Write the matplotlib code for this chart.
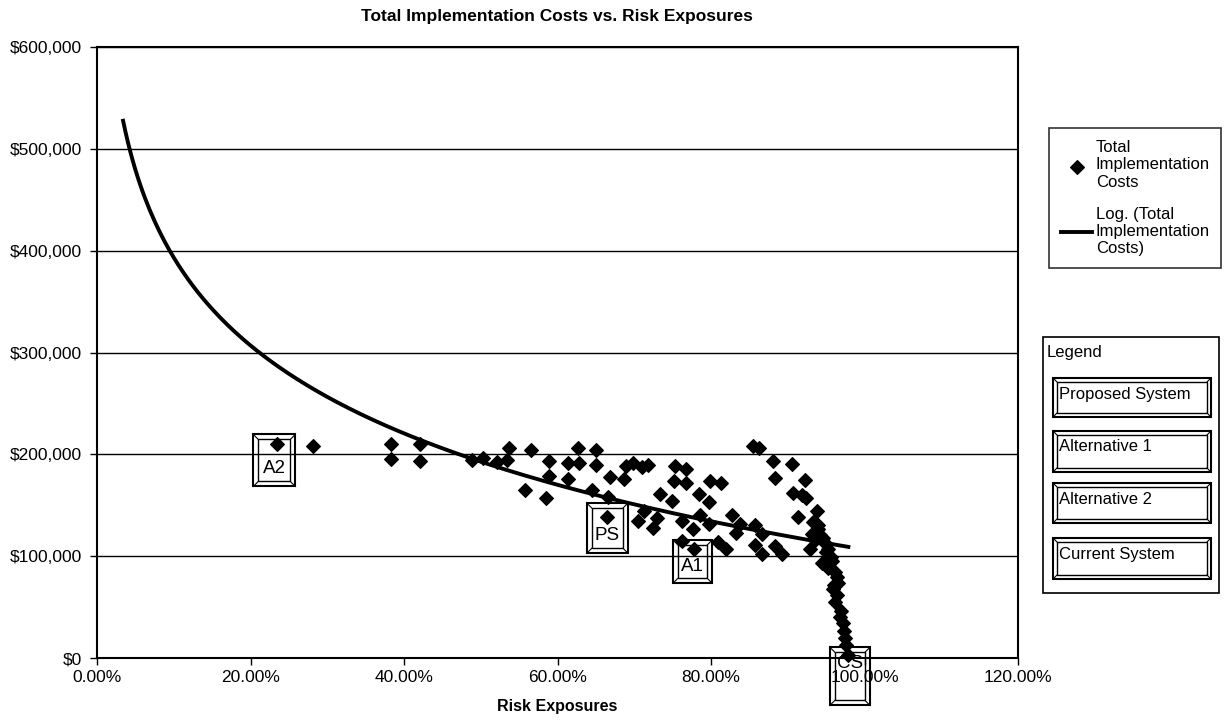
import numpy as np
import matplotlib
matplotlib.use('Agg')
import matplotlib.pyplot as plt
from matplotlib.patches import Rectangle
from matplotlib.lines import Line2D
from matplotlib.ticker import PercentFormatter, MultipleLocator, StrMethodFormatter

plt.rcParams['font.family'] = ['Liberation Sans', 'DejaVu Sans']

# risk exposure (%) and total implementation cost ($k)
risk_pct = [23.4, 28.1, 38.3, 38.3, 42.1, 42.1, 48.9, 50.3, 52.1, 53.4,
            53.7, 56.5, 55.8, 58.5, 58.9, 58.9, 61.4, 61.4, 62.7, 62.8,
            64.5, 65.0, 65.0, 66.5, 66.6, 66.8, 68.7, 68.9, 69.9, 71.0,
            71.8, 71.3, 70.5, 73.0, 72.4, 73.3, 74.9, 75.3, 76.8, 75.2,
            76.8, 76.2, 77.7, 78.4, 79.8, 78.6, 79.8, 79.9, 81.3, 82.7,
            83.8, 83.3, 85.7, 86.7, 76.2, 77.8, 80.9, 82.0, 85.7, 86.7,
            85.5, 86.2, 88.1, 90.5, 88.4, 92.2, 90.7, 91.8, 92.4, 91.4,
            93.8, 93.3, 93.9, 93.1, 94.2, 93.6, 94.9, 88.3, 89.2, 92.9,
            95.3, 95.7, 94.4, 95.3, 96.4, 96.6, 95.9, 96.4, 96.1, 96.8,
            97.2, 97.3, 97.6, 97.9, 94.0, 94.6, 95.0, 95.8, 96.2, 96.0,
            96.9, 97.4]
cost_k = [210, 208, 210, 195, 210, 193, 194, 196, 192, 194,
          206, 204, 165, 157, 193, 179, 191, 176, 206, 191,
          165, 204, 190, 138, 158, 178, 176, 189, 191, 188,
          190, 144.5, 135, 137, 128, 161, 154, 188.5, 186, 174,
          172, 135, 127, 161, 153, 140, 132, 174, 171.5, 140,
          132, 123, 130.5, 122, 115, 107, 114, 107, 111, 102,
          208, 206, 193.7, 190.5, 177, 175, 162, 160, 157, 138,
          144, 134, 130.5, 122, 121, 116, 112.5, 110, 102, 107,
          107, 99, 93, 88, 80, 74, 68, 62, 55, 40,
          34, 27, 12.5, 3, 127, 118, 104, 95, 84, 72,
          46, 20]

risk = np.array(risk_pct) / 100
cost = np.array(cost_k) * 1000

# labelled boxes on the chart
box_labels = ['A2', 'PS', 'A1', 'CS']
box_x = [0.231, 0.665, 0.776, 0.981]
box_y = [194000, 127500, 94600, -18000]
box_size = [(42, 52), (41, 50), (39, 43), (40, 58)]
text_shift = [8, 7, 5, -13]   # px, label text relative to box centre

legend_items = ['Proposed System', 'Alternative 1', 'Alternative 2', 'Current System']

W, H = 1225, 721
fig = plt.figure(figsize=(W / 100, H / 100), dpi=100)
ax = fig.add_axes([97 / W, 1 - 658 / H, (1018 - 97) / W, (658 - 47) / H])


def fx(x, y):
    # pixel (top-left origin) -> figure fraction
    return x / W, 1 - y / H


def bevel(x0, y0, x1, y1, inset=5):
    a = fx(x0, y1)
    fig.add_artist(Rectangle(a, (x1 - x0) / W, (y1 - y0) / H, fill=False,
                             ec='k', lw=1.5, transform=fig.transFigure))
    b = fx(x0 + inset, y1 - inset)
    fig.add_artist(Rectangle(b, (x1 - x0 - 2 * inset) / W, (y1 - y0 - 2 * inset) / H,
                             fill=False, ec='k', lw=1.0, transform=fig.transFigure))
    for (cx, cy, dx, dy) in [(x0, y0, 1, 1), (x1, y0, -1, 1), (x0, y1, 1, -1), (x1, y1, -1, -1)]:
        p1 = fx(cx, cy)
        p2 = fx(cx + dx * inset, cy + dy * inset)
        fig.add_artist(Line2D([p1[0], p2[0]], [p1[1], p2[1]], color='k', lw=0.8,
                              transform=fig.transFigure))


ax.scatter(risk, cost, marker='D', s=48, c='k', zorder=4, clip_on=False,
           label='Total\nImplementation\nCosts')

# Excel style log trendline, 0.2 backward forecast
b, a = np.polyfit(np.log(risk), cost, 1)
xt = np.linspace(risk.min() - 0.2, risk.max(), 300)
ax.plot(xt, a + b * np.log(xt), color='k', lw=2.8, zorder=3,
        label='Log. (Total\nImplementation\nCosts)')

ax.set_xlim(0, 1.2)
ax.set_ylim(0, 600000)
ax.xaxis.set_major_locator(MultipleLocator(0.2))
ax.xaxis.set_major_formatter(PercentFormatter(xmax=1, decimals=2))
ax.yaxis.set_major_locator(MultipleLocator(100000))
ax.yaxis.set_major_formatter(StrMethodFormatter('${x:,.0f}'))
ax.yaxis.grid(True, color='k', lw=1.0)
ax.set_axisbelow(True)
ax.tick_params(direction='out', length=5, width=1, labelsize=12.5)
ax.tick_params(axis='y', pad=6)
for s in ax.spines.values():
    s.set_linewidth(1.5)

fig.text(557 / W, 1 - 17 / H, 'Total Implementation Costs vs. Risk Exposures',
         ha='center', va='center', fontsize=12.5, fontweight='bold')
fig.text(557 / W, 1 - 707 / H, 'Risk Exposures', ha='center', va='center',
         fontsize=11.5, fontweight='bold')

leg = ax.legend(loc='lower left', bbox_to_anchor=fx(1049, 268),
                bbox_transform=fig.transFigure, fontsize=12, frameon=True,
                fancybox=False, edgecolor='k', handlelength=1.9,
                labelspacing=1.0, borderpad=0.7, handletextpad=0.2,
                borderaxespad=0)
leg.get_frame().set_linewidth(1.2)

fig.canvas.draw()
for lab, x, y, (bw, bh), sh in zip(box_labels, box_x, box_y, box_size, text_shift):
    dx, dy = ax.transData.transform((x, y))
    px, py = dx, H - dy
    bevel(px - bw / 2, py - bh / 2, px + bw / 2, py + bh / 2)
    tx, ty = fx(px, py + sh)
    fig.text(tx, ty, lab, ha='center', va='center', fontsize=13.5, zorder=5)

# hand-drawn legend panel
fig.add_artist(Rectangle(fx(1043, 593), (1219 - 1043) / W, (593 - 337) / H,
                         fill=False, ec='k', lw=1.2, transform=fig.transFigure))
tx, ty = fx(1047, 352)
fig.text(tx, ty, 'Legend', ha='left', va='center', fontsize=12)
btn_tops = [378, 431, 483, 538]
btn_bots = [417, 472, 523, 579]
for name, t, bt in zip(legend_items, btn_tops, btn_bots):
    bevel(1053, t, 1211, bt, inset=4)
    tx, ty = fx(1059, t + 16)
    fig.text(tx, ty, name, ha='left', va='center', fontsize=12)

fig.savefig('out.png', dpi=100)
